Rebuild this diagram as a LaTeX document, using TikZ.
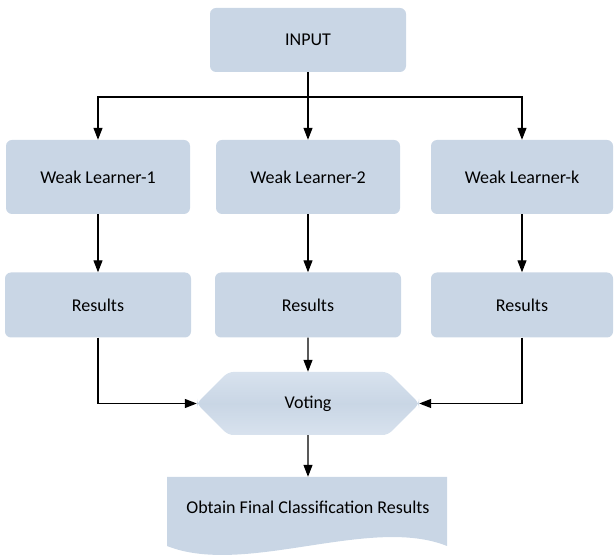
\documentclass[tikz,border=0pt]{standalone}
\usepackage{fontspec}
\setmainfont{Carlito}
\usepackage{xcolor}
\usepackage{tikz}
\usetikzlibrary{arrows.meta, shapes.misc}
\definecolor{boxblue}{RGB}{201,214,229}
\definecolor{votelight}{RGB}{216,226,238}
\tikzset{
  box/.style={
    rectangle,
    rounded corners=6pt,
    fill=boxblue,
    minimum width=184pt,
    minimum height=74pt
  },
  box/.default = 0
}
\tikzset{
  -tri-/.style={
    line width=1.2pt,
    -{Triangle[length=12pt, width=9pt]}
  }
}

\begin{document}
\begin{tikzpicture}[x=1pt, y=1pt, every node/.style={font=\fontsize{18}{22}\selectfont}]
\newcommand\XRoot{308}
\newcommand\YRoot{515}
\useasboundingbox (0,0) rectangle (614,555);
% document shape under the last node
\fill[boxblue] (167,78) -- (447,78) -- (447,9)
  .. controls (370,40) and (245,-22) .. (167,9) -- cycle;
\node[box, minimum width=196pt, minimum height=64pt] (Atop) at (\XRoot,\YRoot) {INPUT};
\coordinate (Asplit) at (\XRoot,\YRoot-57);
\node[box] (A11) at (\XRoot-210,\YRoot-137) {Weak Learner-1};
\node[box] (A12) at (\XRoot,\YRoot-137) {Weak Learner-2};
\node[box, minimum width=182pt] (A13) at (\XRoot+214,\YRoot-137) {Weak Learner-k};
\node[box, minimum width=186pt, minimum height=65pt] (A21) at (\XRoot-210,\YRoot-265) {Results};
\node[box, minimum width=186pt, minimum height=65pt] (A22) at (\XRoot,\YRoot-265) {Results};
\node[box, minimum width=182pt, minimum height=65pt] (A23) at (\XRoot+214,\YRoot-265) {Results};
\node[chamfered rectangle, chamfered rectangle xsep=15pt, chamfered rectangle ysep=31.5pt,
      minimum width=222pt, minimum height=63pt, inner sep=0pt, rounded corners=5pt,
      top color=votelight, bottom color=votelight, middle color=boxblue] (Avote) at (\XRoot,\YRoot-363.5) {Voting};
\node[minimum width=280pt, minimum height=60pt] (Abot) at (\XRoot,48) {Obtain Final Classification Results};

\draw[line width=1.2pt] (Atop) -- (Asplit);
\path (Asplit) edge[-tri-] (A12)
      (A11)    edge[-tri-] (A21)
      (A12)    edge[-tri-] (A22)
      (A13)    edge[-tri-] (A23)
      (A22)    edge[-tri-] (Avote)
      (Avote)  edge[-tri-] (Abot);
\draw[-tri-] (Asplit) -| (A11);
\draw[-tri-] (Asplit) -| (A13);
\draw[-tri-] (A21) |- (Avote);
\draw[-tri-] (A23) |- (Avote);
\end{tikzpicture}
\end{document}
